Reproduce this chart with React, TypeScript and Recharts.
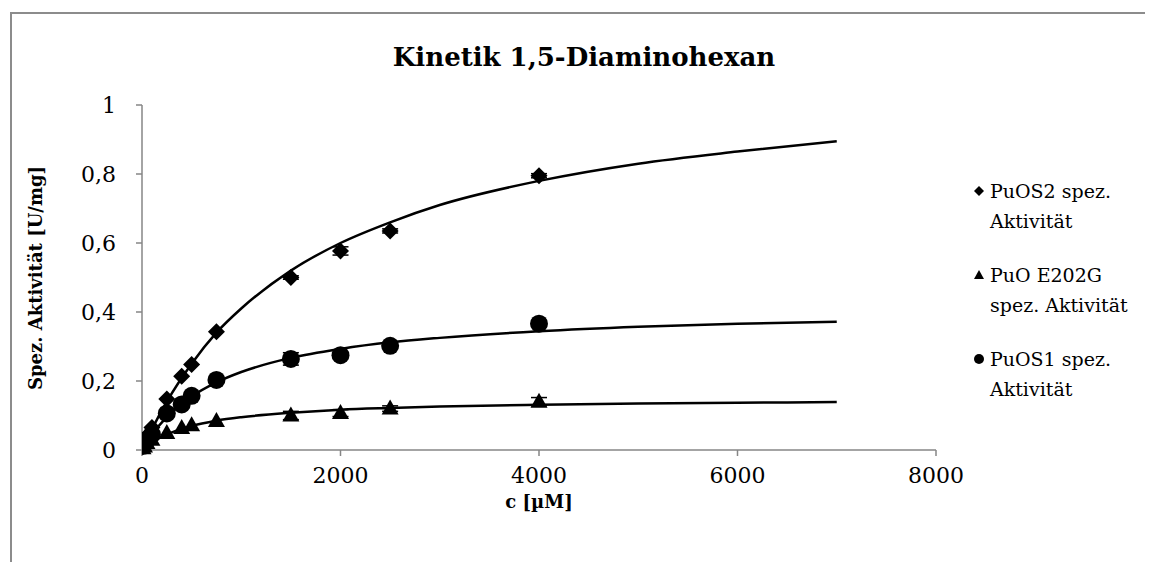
import React from "react";
import {
  ComposedChart,
  XAxis,
  YAxis,
  Scatter,
  Line,
  ErrorBar,
  Legend,
} from "recharts";

const FONT = "'DejaVu Serif', serif";

// measured concentrations [µM]
const conc = [10, 25, 50, 100, 250, 400, 500, 750, 1500, 2000, 2500, 4000];
// specific activities [U/mg]
const puos2 = [0.01, 0.025, 0.04, 0.065, 0.148, 0.214, 0.248, 0.343, 0.5, 0.577, 0.635, 0.795];
const puos2Err = [0, 0, 0, 0, 0, 0, 0, 0, 0.005, 0.012, 0.006, 0.006];
const puoE202G = [0.005, 0.01, 0.02, 0.03, 0.049, 0.064, 0.072, 0.084, 0.1, 0.107, 0.12, 0.14];
const puoE202GErr = [0, 0, 0, 0, 0, 0, 0, 0, 0.012, 0.01, 0.008, 0.012];
const puos1 = [0.012, 0.02, 0.03, 0.045, 0.106, 0.132, 0.157, 0.203, 0.264, 0.275, 0.302, 0.366];
const puos1Err = [0, 0, 0, 0, 0, 0, 0, 0, 0.018, 0.006, 0.006, 0.006];

// fitted curves
const fitX = [0, 100, 250, 500, 750, 1000, 1500, 2000, 2500, 3000, 4000, 5000, 6000, 7000];
const fitPuos2 = [0, 0.06, 0.14, 0.25, 0.34, 0.41, 0.52, 0.6, 0.66, 0.71, 0.78, 0.83, 0.865, 0.895];
const fitPuos1 = [0, 0.044, 0.096, 0.155, 0.196, 0.226, 0.267, 0.293, 0.312, 0.325, 0.344, 0.357, 0.366, 0.372];
const fitE202G = [0, 0.022, 0.045, 0.07, 0.085, 0.095, 0.108, 0.117, 0.122, 0.126, 0.131, 0.135, 0.137, 0.139];

const xTicks = [0, 2000, 4000, 6000, 8000];
const yTicks = [0, 0.2, 0.4, 0.6, 0.8, 1];

const title = "Kinetik 1,5-Diaminohexan";
const xTitle = "c [µM]";
const yTitle = "Spez. Aktivität [U/mg]";
const legendLines = [
  ["PuOS2 spez.", "Aktivität"],
  ["PuO E202G", "spez. Aktivität"],
  ["PuOS1 spez.", "Aktivität"],
];
const legendShapes = ["diamond", "triangle", "circle"];

const pts = (ys: number[], errs: number[]) =>
  conc.map((x, i) => ({ x, y: ys[i], err: errs[i] }));
const fit = (ys: number[]) => fitX.map((x, i) => ({ x, y: ys[i] }));

const Diamond = (props: any) => {
  const { cx, cy } = props;
  const r = 8.5;
  return <path d={`M${cx},${cy - r}L${cx + r},${cy}L${cx},${cy + r}L${cx - r},${cy}Z`} fill="#000" />;
};
const Triangle = (props: any) => {
  const { cx, cy } = props;
  return <path d={`M${cx},${cy - 9}L${cx + 8.5},${cy + 6}L${cx - 8.5},${cy + 6}Z`} fill="#000" />;
};
const Circle = (props: any) => {
  const { cx, cy } = props;
  return <circle cx={cx} cy={cy} r={9} fill="#000" />;
};

const LegendMarker = ({ shape }: { shape: string }) => (
  <svg width={12} height={12} style={{ position: "absolute", left: -17, top: 9 }}>
    {shape === "diamond" && <path d="M6,1L11,6L6,11L1,6Z" fill="#000" />}
    {shape === "triangle" && <path d="M6,1L11,10L1,10Z" fill="#000" />}
    {shape === "circle" && <circle cx={6} cy={6} r={5} fill="#000" />}
  </svg>
);

const renderLegend = () => (
  <div style={{ fontFamily: FONT, fontSize: 19, color: "#000", lineHeight: "30px" }}>
    {legendLines.map((lines, i) => (
      <div key={i} style={{ position: "relative", marginBottom: 24 }}>
        <LegendMarker shape={legendShapes[i]} />
        {lines.map((l, j) => (
          <div key={j} style={{ whiteSpace: "nowrap" }}>{l}</div>
        ))}
      </div>
    ))}
  </div>
);

const fmt = (v: number) => (v === 0 || v === 1 ? String(v) : v.toFixed(1).replace(".", ","));

const axisGray = "#868686";

const XTick = (props: any) => {
  const { x, y, payload } = props;
  return (
    <text x={x} y={y + 25} textAnchor="middle" fontFamily={FONT} fontSize={22} fill="#000">
      {String(payload.value)}
    </text>
  );
};
const YTick = (props: any) => {
  const { x, y, payload } = props;
  return (
    <text x={x - 18} y={y + 8} textAnchor="end" fontFamily={FONT} fontSize={22} fill="#000">
      {fmt(payload.value)}
    </text>
  );
};

export default function App() {
  return (
    <div style={{ position: "relative", width: 1145, height: 554, overflow: "hidden", background: "#fff" }}>
      <div
        style={{
          position: "absolute",
          left: 2,
          top: 4,
          width: 2000,
          height: 2000,
          borderLeft: "2px solid #8c8c8c",
          borderTop: "2px solid #8c8c8c",
        }}
      />
      <div
        style={{
          position: "absolute",
          left: 576,
          top: 34,
          transform: "translateX(-50%)",
          whiteSpace: "nowrap",
          fontFamily: FONT,
          fontWeight: "bold",
          fontSize: 26,
        }}
      >
        {title}
      </div>
      <div
        style={{
          position: "absolute",
          left: 27,
          top: 270,
          transform: "translate(-50%, -50%) rotate(-90deg)",
          fontFamily: FONT,
          fontWeight: "bold",
          fontSize: 18,
          whiteSpace: "nowrap",
        }}
      >
        {yTitle}
      </div>
      <div
        style={{
          position: "absolute",
          left: 531,
          top: 493,
          transform: "translate(-50%, -50%)",
          fontFamily: FONT,
          fontWeight: "bold",
          fontSize: 18,
          whiteSpace: "nowrap",
        }}
      >
        {xTitle}
      </div>
      <div style={{ position: "absolute", left: 0, top: 0 }}>
        <ComposedChart width={1145} height={554} margin={{ top: 97, right: 47, bottom: 52, left: 74 }}>
          <XAxis
            type="number"
            dataKey="x"
            domain={[0, 8000]}
            ticks={xTicks}
            interval={0}
            allowDataOverflow
            height={60}
            axisLine={{ stroke: axisGray, strokeWidth: 1.5 }}
            tickLine={{ stroke: axisGray, strokeWidth: 1.5 }}
            tickSize={6}
            tick={<XTick />}
          />
          <YAxis
            type="number"
            domain={[0, 1]}
            ticks={yTicks}
            interval={0}
            width={60}
            axisLine={{ stroke: axisGray, strokeWidth: 1.5 }}
            tickLine={{ stroke: axisGray, strokeWidth: 1.5 }}
            tickSize={6}
            tick={<YTick />}
          />
          <Line data={fit(fitPuos2)} dataKey="y" type="monotone" dot={false} stroke="#000" strokeWidth={2.5} isAnimationActive={false} legendType="none" />
          <Line data={fit(fitE202G)} dataKey="y" type="monotone" dot={false} stroke="#000" strokeWidth={2.5} isAnimationActive={false} legendType="none" />
          <Line data={fit(fitPuos1)} dataKey="y" type="monotone" dot={false} stroke="#000" strokeWidth={2.5} isAnimationActive={false} legendType="none" />
          <Scatter name="PuOS2 spez. Aktivität" data={pts(puos2, puos2Err)} dataKey="y" shape={<Diamond />} isAnimationActive={false}>
            <ErrorBar dataKey="err" direction="y" width={8} stroke="#000" strokeWidth={1.5} />
          </Scatter>
          <Scatter name="PuO E202G spez. Aktivität" data={pts(puoE202G, puoE202GErr)} dataKey="y" shape={<Triangle />} isAnimationActive={false}>
            <ErrorBar dataKey="err" direction="y" width={8} stroke="#000" strokeWidth={1.5} />
          </Scatter>
          <Scatter name="PuOS1 spez. Aktivität" data={pts(puos1, puos1Err)} dataKey="y" shape={<Circle />} isAnimationActive={false}>
            <ErrorBar dataKey="err" direction="y" width={8} stroke="#000" strokeWidth={1.5} />
          </Scatter>
          <Legend
            layout="vertical"
            align="right"
            verticalAlign="top"
            content={renderLegend}
            wrapperStyle={{ left: 982, top: 168, width: 170 }}
          />
        </ComposedChart>
      </div>
    </div>
  );
}
